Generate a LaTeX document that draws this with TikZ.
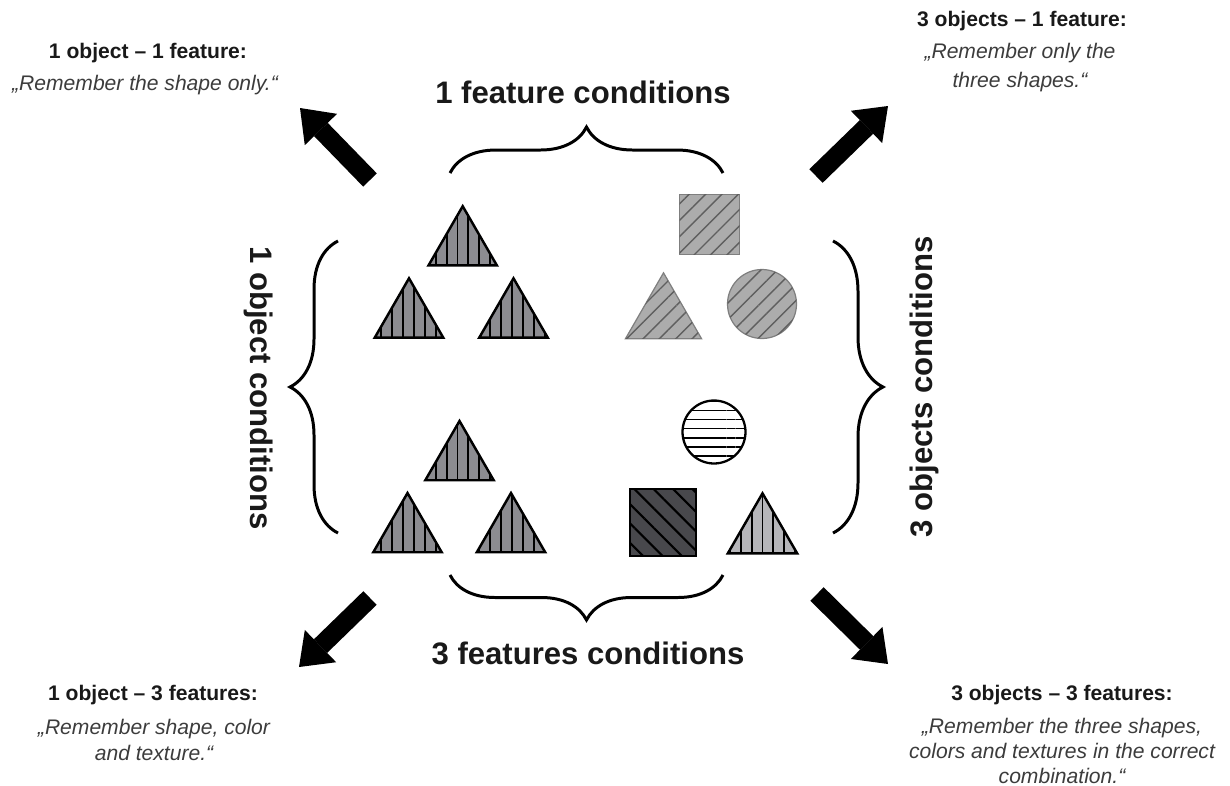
\documentclass[tikz,border=0pt]{standalone}
\usepackage{fontspec}
\setmainfont{Liberation Sans}
\usetikzlibrary{shapes.geometric, arrows.meta, positioning, decorations.pathreplacing, patterns.meta}
\definecolor{trigray}{RGB}{140,140,145}
\definecolor{shadegray}{RGB}{172,172,172}
\definecolor{hatchgray}{RGB}{95,95,95}
\definecolor{palegray}{RGB}{182,182,186}
\definecolor{deepgray}{RGB}{72,72,76}
\definecolor{quotegray}{RGB}{60,60,60}

\begin{document}
\begin{tikzpicture}[
    x=0.02cm, y=-0.02cm,
    head/.style={font=\bfseries\fontsize{12pt}{15pt}\selectfont, text=black!90, align=center, inner sep=0pt},
    quote/.style={font=\itshape\fontsize{12pt}{15pt}\selectfont, text=quotegray, align=center, inner sep=0pt},
    cond/.style={font=\bfseries\fontsize{17.7pt}{20pt}\selectfont, text=black!90, inner sep=0pt},
    tri/.style={regular polygon, regular polygon sides=3, inner sep=0pt, minimum size=1.58cm, draw=black, line width=1.4pt},
    vlines/.style={postaction={pattern={Lines[angle=90,distance=6.2pt,line width=1.1pt]}, pattern color=black}},
    glines/.style={postaction={pattern={Lines[angle=45,distance=6.6pt,line width=0.8pt]}, pattern color=hatchgray}},
    lightsq/.style={rectangle, minimum size=1.2cm, inner sep=0pt, fill=shadegray, draw=hatchgray!80, line width=0.7pt, glines},
    lighttri/.style={regular polygon, regular polygon sides=3, inner sep=0pt, minimum size=1.76cm, fill=shadegray, draw=hatchgray!80, line width=0.7pt, glines},
    lightcirc/.style={circle, minimum size=1.38cm, inner sep=0pt, fill=shadegray, draw=hatchgray!80, line width=0.7pt, glines},
    stripecirc/.style={circle, minimum size=1.26cm, inner sep=0pt, fill=white, draw=black, line width=1.3pt,
        postaction={pattern={Lines[angle=0,distance=5.2pt,line width=0.9pt]}, pattern color=black}},
    darksq/.style={rectangle, minimum size=1.33cm, inner sep=0pt, fill=deepgray, draw=black, line width=1.3pt,
        postaction={pattern={Lines[angle=-45,distance=7.8pt,line width=1.2pt]}, pattern color=black}},
    curly/.style={decorate, decoration={brace, amplitude=#1}, line width=1.7pt},
    bigarrow/.style={line width=0.38cm, -{Triangle[length=0.6cm, width=0.9cm, line width=0pt]}}
]
\useasboundingbox (0,0) rectangle (1230,785);

\node[head] (h11) at (148,53) {1 object – 1 feature:};
\node[quote] (q11) at (145,85) {„Remember the shape only.“};
\node[head] (h31) at (1022,21) {3 objects – 1 feature:};
\node[quote, font=\itshape\fontsize{12pt}{16.5pt}\selectfont] (q31) at (1020,68) {„Remember only the\\three shapes.“};
\node[head] (h13) at (153,695) {1 object – 3 features:};
\node[quote] (q13) at (154,740) {„Remember shape, color\\and texture.“};
\node[head] (h33) at (1062,695) {3 objects – 3 features:};
\node[quote, font=\itshape\fontsize{12pt}{14pt}\selectfont] (q33) at (1062,751) {„Remember the three shapes,\\colors and textures in the correct\\combination.“};

\node[cond] (feat1) at (583,92) {1 feature conditions};
\node[cond] (feat3) at (588,653) {3 features conditions};
\node[cond, rotate=-90] (obj1) at (259,388) {1 object conditions};
\node[cond, rotate=90] (obj3) at (924,387) {3 objects conditions};

\node[tri, fill=trigray, vlines] (a1) at (462.7,245.7) {};
\node[tri, fill=trigray, vlines] (a2) at (409,317.8) {};
\node[tri, fill=trigray, vlines] (a3) at (513.5,317.8) {};
\node[tri, fill=trigray, vlines] (b1) at (459.5,460.5) {};
\node[tri, fill=trigray, vlines] (b2) at (407.5,532.5) {};
\node[tri, fill=trigray, vlines] (b3) at (511,532.5) {};
\node[lightsq] (c1) at (709.5,224.5) {};
\node[lighttri] (c2) at (663.5,316.8) {};
\node[lightcirc] (c3) at (762,304) {};
\node[stripecirc] (d1) at (714,432) {};
\node[darksq] (d2) at (663,522.5) {};
\node[tri, fill=palegray, vlines, minimum size=1.6cm] (d3) at (762.5,533.3) {};

\coordinate (topL) at (450,173);
\coordinate (topR) at (723,173);
\coordinate (botL) at (450,575);
\coordinate (botR) at (723,575);
\coordinate (lefT) at (338,241);
\coordinate (lefB) at (338,533);
\coordinate (rigT) at (833,241);
\coordinate (rigB) at (833,533);
\draw[curly=0.92cm] (topL) -- (topR);
\draw[curly=0.9cm] (botR) -- (botL);
\draw[curly=0.96cm] (lefB) -- (lefT);
\draw[curly=1cm] (rigT) -- (rigB);

\coordinate (tl0) at (370,180);
\coordinate (tl1) at (300,108);
\coordinate (tr0) at (816,176);
\coordinate (tr1) at (888,106);
\coordinate (bl0) at (370,598);
\coordinate (bl1) at (299,667);
\coordinate (br0) at (817,594);
\coordinate (br1) at (888,664);
\draw[bigarrow] (tl0) -- (tl1);
\draw[bigarrow] (tr0) -- (tr1);
\draw[bigarrow] (bl0) -- (bl1);
\draw[bigarrow] (br0) -- (br1);

\end{tikzpicture}
\end{document}
